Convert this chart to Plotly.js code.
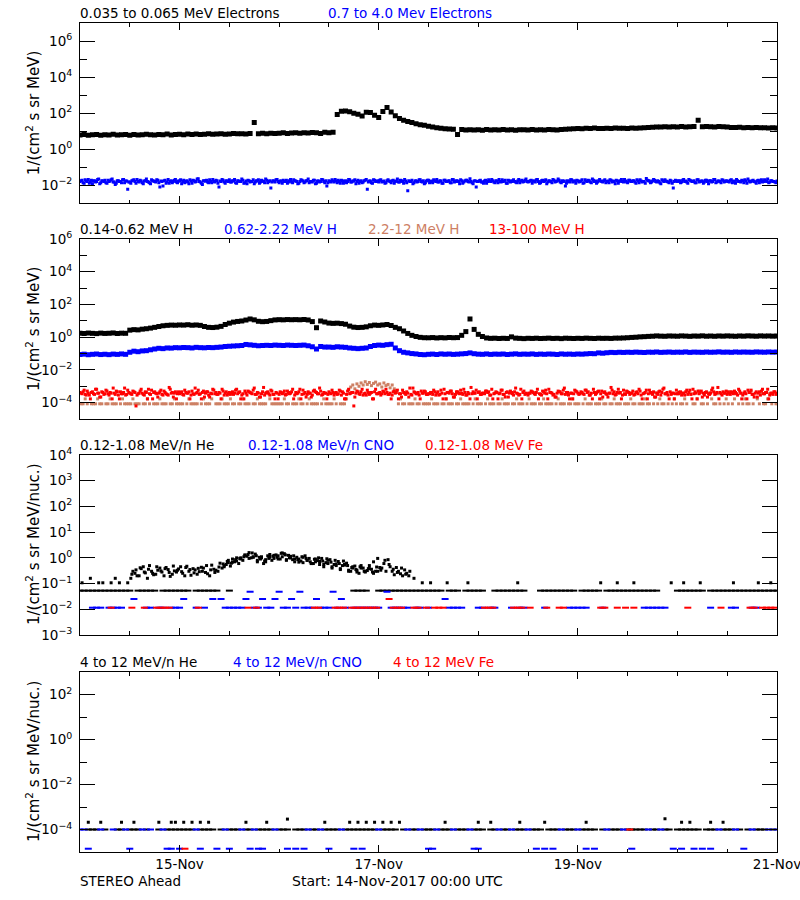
<!DOCTYPE html>
<html>
<head>
<meta charset="utf-8">
<script src="https://cdn.plot.ly/plotly-3.0.1.min.js"></script>
<style>html,body{margin:0;padding:0;background:#fff}</style>
</head>
<body>
<div id="chart" style="width:800px;height:900px"></div>
<script>
// ---------- time base ----------
const START = Date.UTC(2017, 10, 14, 0, 0, 0);
const HOUR = 3600000;

// ---------- Panel 1: electrons ----------
// 0.035-0.065 MeV electrons, hourly from 14-Nov 00:00
const eLow = [
6.1,6.5,5.9,6.3,6.6,6.0,6.4,6.2,6.7,6.1,6.3,6.5,6.0,6.6,6.2,6.4,6.8,6.3,6.1,6.6,6.4,6.9,6.2,6.5,
6.7,6.3,6.9,6.5,7.0,6.6,6.8,7.1,6.7,6.9,7.3,6.8,7.0,7.4,7.1,7.2,6.9,7.5,30,7.3,7.6,7.2,7.8,7.4,
7.7,8.1,7.5,8.0,8.3,7.8,8.2,8.0,8.5,8.1,7.4,8.6,8.3,8.8,85,128,132,118,100,88,70,112,108,76,
58,125,205,115,72,50,41,34,30,26,23,21,19,17,15.5,14.5,13.8,13.2,12.6,6.5,12.3,11.8,12.2,11.6,
12.0,11.4,12.3,11.7,12.1,11.5,12.4,11.8,12.0,11.3,12.2,11.9,11.6,12.3,11.8,12.1,11.5,12.5,12.0,11.7,12.4,12.8,13.2,13.6,
14.1,13.7,14.5,14.0,14.8,14.2,13.9,14.6,14.3,15.0,14.4,14.7,14.1,15.2,14.6,14.9,15.4,15.8,16.5,17.2,16.8,17.5,17.0,17.8,
17.3,18.0,17.1,17.6,18.2,40,17.4,18.1,17.7,17.2,18.0,17.5,16.9,16.2,15.8,16.4,15.5,16.0,15.3,15.9,15.4,15.7,15.1,15.6,
15.2];
// 0.7-4.0 MeV electrons, every 30 min (on :00/:30)
const eHigh = [
.016,.019,.013,.017,.021,.015,.012,.018,.016,.022,.014,.017,.019,.013,.016,.02,.015,.011,.018,.016,.014,.021,.017,.006,
.015,.018,.02,.013,.016,.019,.014,.017,.022,.015,.012,.018,.016,.02,.014,.017,.009,.019,.015,.013,.018,.016,.021,.014,
.017,.012,.019,.016,.015,.02,.013,.018,.016,.023,.015,.011,.017,.019,.014,.016,.021,.015,.018,.008,.016,.019,.013,.017,
.02,.015,.017,.014,.018,.016,.022,.013,.017,.019,.015,.016,.012,.018,.02,.015,.017,.014,.019,.016,.007,.018,.015,.021,
.014,.017,.019,.016,.013,.018,.015,.02,.017,.012,.016,.019,.014,.018,.022,.016,.015,.019,.013,.017,.016,.02,.014,.009,
.018,.015,.017,.021,.014,.016,.019,.013,.018,.016,.02,.015,.017,.012,.019,.016,.014,.018,.021,.015,.017,.013,.019,.016,
.015,.02,.016,.013,.018,.017,.014,.019,.016,.022,.015,.018,.013,.017,.005,.016,.019,.014,.018,.016,.02,.015,.012,.017,
.019,.016,.014,.018,.021,.015,.017,.013,.019,.016,.018,.014,.02,.016,.017,.012,.018,.015,.019,.016,.023,.014,.017,.008,
.016,.019,.015,.017,.013,.02,.016,.018,.014,.017,.021,.015,.016,.019,.013,.018,.016,.02,.015,.017,.014,.019,.016,.022,
.015,.018,.013,.017,.02,.016,.014,.019,.017,.012,.018,.016,.021,.015,.017,.019,.014,.016,.009,.018,.015,.02,.017,.013,
.018,.016,.02,.014,.017,.019,.015,.022,.016,.013,.018,.017,.015,.02,.016,.014,.019,.017,.012,.018,.016,.021,.015,.017,
.014,.019,.016,.018,.013,.017,.02,.015,.016,.024,.018,.014,.017,.019,.015,.016,.012,.018,.02,.016,.014,.017,.007,.019,
.016,.018,.015,.021,.017,.013,.019,.016,.018,.014,.02,.016,.017,.015,.019,.012,.018,.016,.021,.015,.017,.014,.019,.016,
.017,.015,.02,.016,.013,.018,.016,.019,.014,.017,.022,.015,.018,.016,.013,.019,.017,.015,.02,.016,.014,.018,.016,.015,
.017];
// 0.7-4.0 MeV electrons, every 30 min (on :15/:45)
const eHigh2 = [
.018,.014,.02,.016,.013,.019,.017,.015,.021,.012,.018,.016,.014,.019,.017,.022,.015,.013,.018,.016,.02,.014,.017,.015,
.013,.019,.016,.021,.015,.017,.012,.018,.016,.014,.02,.017,.015,.019,.008,.016,.018,.013,.021,.016,.014,.019,.015,.017,
.02,.016,.014,.018,.012,.017,.019,.015,.022,.016,.013,.018,.017,.015,.02,.014,.016,.019,.013,.017,.021,.015,.018,.016,
.015,.018,.021,.013,.017,.016,.019,.014,.012,.018,.016,.02,.015,.017,.013,.019,.016,.022,.014,.018,.015,.017,.02,.016,
.017,.013,.016,.019,.015,.021,.014,.018,.016,.013,.02,.017,.015,.018,.014,.016,.019,.012,.017,.015,.021,.016,.018,.014,
.016,.02,.015,.017,.019,.013,.018,.016,.014,.021,.015,.017,.02,.016,.013,.018,.015,.019,.006,.017,.014,.02,.016,.018,
.019,.015,.017,.014,.02,.016,.018,.013,.017,.015,.019,.016,.021,.014,.018,.016,.012,.017,.015,.02,.016,.018,.014,.019,
.014,.017,.02,.016,.015,.018,.013,.019,.016,.017,.014,.021,.015,.018,.016,.02,.013,.017,.019,.015,.016,.012,.018,.016,
.018,.015,.013,.019,.016,.017,.021,.015,.018,.014,.016,.02,.017,.013,.019,.015,.018,.016,.014,.021,.017,.015,.019,.016,
.016,.019,.017,.015,.021,.013,.018,.016,.02,.015,.017,.014,.019,.016,.022,.015,.018,.017,.013,.016,.02,.015,.017,.019,
.015,.017,.013,.02,.016,.018,.014,.019,.017,.015,.021,.016,.018,.014,.017,.02,.015,.016,.019,.013,.018,.016,.021,.015,
.019,.016,.018,.015,.02,.014,.017,.016,.013,.019,.017,.015,.021,.016,.018,.014,.02,.016,.017,.015,.019,.013,.016,.018,
.017,.014,.019,.016,.015,.021,.018,.016,.014,.02,.015,.017,.013,.019,.016,.018,.015,.021,.014,.017,.016,.02,.015,.018,
.016,.019,.014,.017,.021,.016,.015,.018,.02,.013,.017,.016,.019,.015,.018,.014,.02,.016,.017,.022,.015,.018,.016,.014];

// ---------- Panel 2: protons ----------
// 0.14-0.62 MeV H, hourly
const hLow = [
1.75,1.68,1.8,1.72,1.66,1.78,1.7,1.74,1.82,1.69,1.76,1.73,
2.7,2.9,2.8,3.1,3.3,3.6,4.0,4.5,5.0,5.3,5.5,5.4,
5.6,5.5,5.8,5.4,5.6,5.3,4.5,4.0,3.9,4.1,4.6,6.0,
7.2,8.4,9.2,9.8,11.2,13.0,11.5,9.4,8.9,9.2,10.3,11.4,
11.8,11.5,12.0,11.7,11.9,11.6,12.1,11.3,9.0,3.8,9.8,8.5,
7.3,7.0,7.2,6.8,6.2,4.8,4.1,3.9,4.0,4.3,5.0,5.5,
5.3,5.6,6.0,5.2,4.0,3.3,2.4,1.7,1.3,1.1,0.98,0.93,
0.92,0.95,0.9,0.94,0.91,0.96,0.93,0.95,1.3,2.2,13,3.0,
1.5,1.1,0.9,0.85,0.87,0.83,0.86,0.84,1.05,0.88,0.85,0.82,
0.86,0.84,0.87,0.83,0.85,0.88,0.84,0.86,0.82,0.87,0.85,0.83,
0.86,0.84,0.88,0.85,0.83,0.87,0.85,0.86,0.84,0.88,0.88,0.9,
0.93,0.97,1.0,1.05,1.08,1.12,1.15,1.2,1.16,1.14,1.19,1.17,
1.15,1.2,1.17,1.13,1.18,1.16,1.21,1.15,1.18,1.14,1.19,1.16,
1.2,1.17,1.14,1.19,1.16,1.21,1.18,1.15,1.2,1.17,1.19,1.16,
1.18];
// 0.62-2.22 MeV H, hourly
const hMid = [
.088,.092,.085,.09,.094,.087,.091,.086,.093,.089,.095,.09,
.12,.14,.13,.145,.15,.17,.19,.21,.2,.22,.215,.23,
.225,.235,.23,.22,.24,.23,.225,.235,.23,.24,.25,.27,
.28,.29,.3,.31,.36,.34,.32,.3,.31,.32,.31,.33,
.32,.31,.33,.32,.31,.32,.33,.3,.26,.19,.27,.25,
.25,.24,.26,.25,.24,.22,.21,.2,.21,.22,.27,.31,
.33,.32,.35,.37,.22,.15,.12,.11,.1,.095,.088,.085,
.09,.093,.088,.095,.091,.094,.089,.092,.096,.1,.11,.098,
.092,.09,.095,.089,.093,.091,.094,.088,.092,.096,.09,.093,
.091,.095,.089,.093,.09,.094,.092,.088,.095,.091,.093,.09,
.094,.092,.096,.1,.098,.11,.105,.112,.118,.115,.12,.117,
.121,.118,.123,.119,.116,.122,.12,.125,.118,.121,.124,.119,
.122,.12,.126,.118,.123,.121,.119,.124,.12,.122,.127,.121,
.123,.119,.125,.121,.124,.122,.12,.126,.123,.121,.125,.122,
.124];
// 2.2-12 MeV H, every 30 min
const hVery = [
8.5e-5,8.5e-5,1.7e-4,8.5e-5,null,8.5e-5,8.5e-5,8.5e-5,1.7e-4,8.5e-5,8.5e-5,null,8.5e-5,8.5e-5,1.7e-4,8.5e-5,8.5e-5,8.5e-5,null,8.5e-5,1.7e-4,8.5e-5,8.5e-5,8.5e-5,
8.5e-5,1.7e-4,8.5e-5,8.5e-5,8.5e-5,null,8.5e-5,8.5e-5,1.7e-4,8.5e-5,null,8.5e-5,8.5e-5,8.5e-5,1.7e-4,8.5e-5,8.5e-5,8.5e-5,null,8.5e-5,8.5e-5,1.7e-4,8.5e-5,8.5e-5,
8.5e-5,8.5e-5,null,8.5e-5,1.7e-4,8.5e-5,8.5e-5,8.5e-5,8.5e-5,null,8.5e-5,1.7e-4,8.5e-5,8.5e-5,8.5e-5,1.7e-4,null,8.5e-5,8.5e-5,8.5e-5,1.7e-4,8.5e-5,8.5e-5,8.5e-5,
1.7e-4,8.5e-5,8.5e-5,null,8.5e-5,8.5e-5,1.7e-4,8.5e-5,8.5e-5,8.5e-5,null,8.5e-5,8.5e-5,1.7e-4,8.5e-5,8.5e-5,8.5e-5,8.5e-5,null,1.7e-4,8.5e-5,8.5e-5,8.5e-5,8.5e-5,
8.5e-5,8.5e-5,1.7e-4,8.5e-5,8.5e-5,null,8.5e-5,8.5e-5,8.5e-5,1.7e-4,8.5e-5,8.5e-5,null,8.5e-5,1.7e-4,8.5e-5,8.5e-5,8.5e-5,8.5e-5,null,8.5e-5,1.7e-4,8.5e-5,8.5e-5,
8.5e-5,8.5e-5,1.7e-4,8.5e-5,null,8.5e-5,8.5e-5,8.5e-5,1.7e-4,6e-4,9e-4,1.2e-3,7e-4,1.4e-3,1.0e-3,1.6e-3,1.2e-3,1.9e-3,1.3e-3,1.7e-3,1.1e-3,1.5e-3,1.8e-3,1.2e-3,
1.4e-3,9e-4,1.6e-3,1.1e-3,1.3e-3,8e-4,1.2e-3,7e-4,5.5e-4,8.5e-5,1.7e-4,8.5e-5,8.5e-5,null,8.5e-5,8.5e-5,8.5e-5,1.7e-4,8.5e-5,8.5e-5,null,8.5e-5,8.5e-5,8.5e-5,
8.5e-5,1.7e-4,8.5e-5,8.5e-5,8.5e-5,null,8.5e-5,8.5e-5,1.7e-4,8.5e-5,8.5e-5,8.5e-5,null,8.5e-5,8.5e-5,1.7e-4,8.5e-5,8.5e-5,8.5e-5,8.5e-5,null,8.5e-5,1.7e-4,8.5e-5,
8.5e-5,8.5e-5,null,8.5e-5,1.7e-4,8.5e-5,8.5e-5,8.5e-5,null,8.5e-5,8.5e-5,1.7e-4,8.5e-5,8.5e-5,8.5e-5,null,8.5e-5,8.5e-5,1.7e-4,8.5e-5,8.5e-5,8.5e-5,null,8.5e-5,
1.7e-4,8.5e-5,8.5e-5,8.5e-5,null,8.5e-5,8.5e-5,1.7e-4,8.5e-5,8.5e-5,8.5e-5,8.5e-5,null,8.5e-5,1.7e-4,8.5e-5,8.5e-5,8.5e-5,null,8.5e-5,8.5e-5,1.7e-4,8.5e-5,8.5e-5,
8.5e-5,null,8.5e-5,1.7e-4,8.5e-5,8.5e-5,8.5e-5,null,8.5e-5,8.5e-5,8.5e-5,1.7e-4,8.5e-5,8.5e-5,null,8.5e-5,8.5e-5,1.7e-4,8.5e-5,8.5e-5,8.5e-5,null,8.5e-5,8.5e-5,
8.5e-5,1.7e-4,8.5e-5,8.5e-5,null,8.5e-5,8.5e-5,8.5e-5,1.7e-4,8.5e-5,8.5e-5,null,8.5e-5,4e-4,8.5e-5,1.7e-4,8.5e-5,8.5e-5,3.5e-4,8.5e-5,null,8.5e-5,1.7e-4,8.5e-5,
4.5e-4,8.5e-5,8.5e-5,1.7e-4,8.5e-5,null,3.5e-4,8.5e-5,8.5e-5,1.7e-4,5e-4,8.5e-5,8.5e-5,null,8.5e-5,4e-4,1.7e-4,8.5e-5,8.5e-5,3.5e-4,8.5e-5,null,8.5e-5,1.7e-4,
8.5e-5,4.5e-4,8.5e-5,1.7e-4,null,8.5e-5,3.8e-4,8.5e-5,1.7e-4,8.5e-5,8.5e-5,5e-4,8.5e-5,null,1.7e-4,8.5e-5,4e-4,8.5e-5,8.5e-5,1.7e-4,3.5e-4,8.5e-5,null,8.5e-5,
8.5e-5];
// 13-100 MeV H, every 30 min (on :00/:30)
const hHigh = [
4.2e-4,3.5e-4,5.8e-4,2.9e-4,3.8e-4,1.7e-4,4.6e-4,3.2e-4,6.6e-4,3.8e-4,2.2e-4,4.2e-4,3.5e-4,5.1e-4,2.9e-4,3.8e-4,7.8e-4,3.2e-4,4.6e-4,1.7e-4,3.5e-4,4.2e-4,2.9e-4,5.8e-4,
3.8e-4,3.2e-4,4.6e-4,6.3e-5,3.5e-4,5.1e-4,3.8e-4,2.9e-4,4.2e-4,6.6e-4,3.2e-4,1.7e-4,4.6e-4,3.5e-4,3.8e-4,5.8e-4,2.9e-4,4.2e-4,3.2e-4,8.5e-4,3.8e-4,2.2e-4,4.6e-4,3.5e-4,
3.5e-4,4.6e-4,2.9e-4,4.2e-4,3.8e-4,1.7e-4,5.1e-4,3.2e-4,3.8e-4,5.8e-4,3.5e-4,4.2e-4,2.2e-4,4.6e-4,2.9e-4,3.8e-4,6.6e-4,3.5e-4,3.2e-4,4.2e-4,1.7e-4,5.1e-4,3.8e-4,2.9e-4,
4.2e-4,3.8e-4,3.2e-4,5.8e-4,3.5e-4,4.6e-4,2.9e-4,1.7e-4,3.8e-4,5.1e-4,4.2e-4,3.5e-4,7.8e-4,3.2e-4,3.8e-4,2.2e-4,4.6e-4,2.9e-4,4.2e-4,3.5e-4,5.8e-4,3.2e-4,1.7e-4,3.8e-4,
3.2e-4,4.2e-4,3.8e-4,2.9e-4,5.1e-4,3.5e-4,4.6e-4,1.7e-4,4.2e-4,3.8e-4,6.6e-4,3.2e-4,3.5e-4,2.2e-4,4.6e-4,3.8e-4,2.9e-4,5.8e-4,4.2e-4,3.5e-4,5.1e-4,3.2e-4,3.8e-4,1.7e-4,
4.6e-4,3.5e-4,4.2e-4,3.8e-4,3.2e-4,5.8e-4,2.9e-4,3.8e-4,1.7e-4,5.1e-4,3.5e-4,4.2e-4,6.3e-5,3.8e-4,4.6e-4,3.2e-4,6.6e-4,3.5e-4,2.9e-4,4.2e-4,3.8e-4,1.7e-4,4.6e-4,3.5e-4,
3.8e-4,2.9e-4,5.1e-4,3.5e-4,4.2e-4,3.2e-4,1.7e-4,4.6e-4,3.8e-4,5.8e-4,3.5e-4,2.2e-4,4.2e-4,3.2e-4,3.8e-4,7.8e-4,2.9e-4,4.6e-4,3.5e-4,4.2e-4,1.7e-4,3.8e-4,5.1e-4,3.2e-4,
3.5e-4,4.2e-4,3.2e-4,4.6e-4,3.8e-4,2.9e-4,5.8e-4,1.7e-4,3.5e-4,4.2e-4,3.8e-4,5.1e-4,2.2e-4,3.2e-4,4.6e-4,3.5e-4,3.8e-4,6.6e-4,2.9e-4,4.2e-4,1.7e-4,3.5e-4,3.8e-4,5.8e-4,
4.2e-4,3.2e-4,3.8e-4,3.5e-4,5.1e-4,4.6e-4,2.9e-4,1.7e-4,3.8e-4,4.2e-4,3.5e-4,5.8e-4,3.2e-4,2.2e-4,4.6e-4,3.8e-4,4.2e-4,2.9e-4,7.8e-4,3.5e-4,3.2e-4,1.7e-4,5.1e-4,3.8e-4,
2.9e-4,3.8e-4,4.6e-4,3.5e-4,4.2e-4,1.7e-4,3.2e-4,5.1e-4,3.8e-4,3.5e-4,6.6e-4,4.2e-4,2.9e-4,2.2e-4,3.8e-4,4.6e-4,3.5e-4,5.8e-4,3.2e-4,4.2e-4,1.7e-4,3.8e-4,3.5e-4,5.1e-4,
3.8e-4,3.5e-4,4.2e-4,3.2e-4,5.8e-4,4.6e-4,2.9e-4,1.7e-4,4.2e-4,3.8e-4,5.1e-4,3.5e-4,2.2e-4,4.6e-4,3.2e-4,3.8e-4,8.5e-4,3.5e-4,2.9e-4,4.2e-4,3.8e-4,1.7e-4,5.8e-4,3.2e-4,
4.6e-4,3.2e-4,3.8e-4,2.9e-4,4.2e-4,3.5e-4,5.1e-4,1.7e-4,3.8e-4,5.8e-4,3.5e-4,4.2e-4,3.2e-4,2.2e-4,3.8e-4,4.6e-4,2.9e-4,6.6e-4,3.5e-4,4.2e-4,1.7e-4,3.2e-4,3.8e-4,3.5e-4,
3.5e-4,4.2e-4,2.9e-4,3.8e-4,4.6e-4,3.2e-4,5.8e-4,1.7e-4,3.5e-4,3.8e-4,5.1e-4,4.2e-4,2.2e-4,2.9e-4,4.6e-4,3.5e-4,3.8e-4,7.8e-4,3.2e-4,4.2e-4,1.7e-4,3.5e-4,4.6e-4,3.8e-4,
3.2e-4,3.8e-4,4.6e-4,3.5e-4,4.2e-4,2.9e-4,5.1e-4,1.7e-4,3.8e-4,3.5e-4,5.8e-4,4.2e-4,3.2e-4,2.2e-4,4.6e-4,3.8e-4,2.9e-4,6.6e-4,3.5e-4,4.2e-4,1.7e-4,3.8e-4,3.2e-4,4.6e-4,
3.8e-4];
// 13-100 MeV H, every 30 min (on :15/:45)
const hHigh2 = [
3.8e-4,4.6e-4,3.2e-4,5.1e-4,2.9e-4,4.2e-4,3.5e-4,6.6e-4,3.8e-4,2.2e-4,4.6e-4,3.2e-4,5.8e-4,3.5e-4,4.2e-4,1.7e-4,3.8e-4,5.1e-4,2.9e-4,4.6e-4,3.5e-4,7.8e-4,3.2e-4,4.2e-4,
3.5e-4,5.1e-4,4.2e-4,2.9e-4,3.8e-4,6.6e-4,3.2e-4,4.6e-4,1.7e-4,3.5e-4,5.8e-4,4.2e-4,3.8e-4,2.2e-4,4.6e-4,3.2e-4,5.1e-4,3.5e-4,2.9e-4,6.6e-4,4.2e-4,3.8e-4,1.7e-4,4.6e-4,
4.2e-4,3.2e-4,5.8e-4,3.8e-4,4.6e-4,2.9e-4,3.5e-4,7.8e-4,4.2e-4,3.2e-4,1.7e-4,5.1e-4,3.8e-4,4.6e-4,2.2e-4,3.5e-4,5.8e-4,4.2e-4,3.2e-4,3.8e-4,6.6e-4,2.9e-4,4.6e-4,3.5e-4,
3.2e-4,4.6e-4,3.8e-4,6.6e-4,4.2e-4,1.7e-4,3.5e-4,5.1e-4,2.9e-4,4.6e-4,3.8e-4,5.8e-4,3.2e-4,4.2e-4,2.2e-4,3.5e-4,8.5e-4,3.8e-4,4.6e-4,2.9e-4,5.1e-4,3.2e-4,4.2e-4,1.7e-4,
4.6e-4,3.5e-4,5.1e-4,3.2e-4,4.2e-4,3.8e-4,6.6e-4,2.9e-4,3.5e-4,4.6e-4,1.7e-4,5.8e-4,4.2e-4,3.2e-4,3.8e-4,2.2e-4,5.1e-4,4.6e-4,3.5e-4,7.8e-4,2.9e-4,4.2e-4,3.8e-4,3.2e-4,
3.8e-4,5.8e-4,2.9e-4,4.2e-4,3.5e-4,5.1e-4,4.6e-4,1.7e-4,3.2e-4,6.6e-4,3.8e-4,4.2e-4,2.2e-4,5.1e-4,3.5e-4,4.6e-4,2.9e-4,3.8e-4,5.8e-4,3.2e-4,4.2e-4,1.7e-4,6.6e-4,3.5e-4,
4.2e-4,3.5e-4,4.6e-4,6.6e-4,3.2e-4,3.8e-4,2.9e-4,5.1e-4,4.2e-4,1.7e-4,3.5e-4,5.8e-4,3.8e-4,4.6e-4,2.2e-4,3.2e-4,7.8e-4,4.2e-4,3.5e-4,2.9e-4,5.1e-4,3.8e-4,4.6e-4,3.2e-4,
3.5e-4,4.2e-4,5.8e-4,2.9e-4,4.6e-4,3.2e-4,3.8e-4,6.6e-4,1.7e-4,4.2e-4,5.1e-4,3.5e-4,2.2e-4,4.6e-4,3.8e-4,5.8e-4,3.2e-4,4.2e-4,2.9e-4,3.5e-4,8.5e-4,4.6e-4,3.8e-4,1.7e-4,
4.6e-4,3.2e-4,3.8e-4,5.1e-4,4.2e-4,2.9e-4,6.6e-4,3.5e-4,4.6e-4,1.7e-4,3.8e-4,5.8e-4,3.2e-4,4.2e-4,2.2e-4,5.1e-4,3.5e-4,4.6e-4,3.8e-4,2.9e-4,6.6e-4,4.2e-4,3.2e-4,3.5e-4,
3.8e-4,5.1e-4,4.2e-4,3.2e-4,6.6e-4,3.5e-4,2.9e-4,4.6e-4,5.8e-4,1.7e-4,4.2e-4,3.8e-4,3.2e-4,2.2e-4,5.1e-4,4.6e-4,3.5e-4,7.8e-4,4.2e-4,2.9e-4,3.8e-4,1.7e-4,5.8e-4,4.6e-4,
3.2e-4,4.6e-4,3.5e-4,5.8e-4,4.2e-4,2.9e-4,3.8e-4,6.6e-4,3.2e-4,4.6e-4,1.7e-4,5.1e-4,4.2e-4,3.5e-4,2.2e-4,3.8e-4,5.8e-4,4.6e-4,3.2e-4,6.6e-4,4.2e-4,2.9e-4,3.5e-4,5.1e-4,
4.2e-4,3.8e-4,5.1e-4,3.2e-4,4.6e-4,6.6e-4,2.9e-4,3.5e-4,4.2e-4,1.7e-4,5.8e-4,3.8e-4,4.6e-4,2.2e-4,3.2e-4,5.1e-4,4.2e-4,7.8e-4,3.5e-4,2.9e-4,4.6e-4,3.8e-4,1.7e-4,5.8e-4,
3.5e-4,4.6e-4,3.8e-4,2.9e-4,5.8e-4,4.2e-4,3.2e-4,6.6e-4,4.6e-4,1.7e-4,3.5e-4,5.1e-4,3.8e-4,4.2e-4,2.2e-4,3.2e-4,5.8e-4,4.6e-4,3.5e-4,8.5e-4,4.2e-4,2.9e-4,3.8e-4,5.1e-4,
4.6e-4,3.2e-4,4.2e-4,5.1e-4,3.5e-4,6.6e-4,3.8e-4,2.9e-4,4.6e-4,1.7e-4,4.2e-4,5.8e-4,3.2e-4,3.8e-4,2.2e-4,4.6e-4,5.1e-4,3.5e-4,4.2e-4,6.6e-4,2.9e-4,3.8e-4,4.6e-4,3.2e-4];

// ---------- Panel 3: 0.12-1.08 MeV/n heavy ions ----------
// He: hourly sub-samples at :00 (heA), :30 (heB), :15 (heC); extra :45 (heD from 34:45, heE from 12:45)
const heA = [
.053,.053,.053,.053,.053,.053,.053,.053,.053,.053,.053,.053,
.053,null,.053,.053,.053,.053,.053,null,.053,.053,.053,.053,
.053,.053,.053,null,.053,.053,.053,.053,.053,.053,null,null,
.053,null,null,null,null,null,null,null,null,null,null,null,
null,null,null,null,null,null,null,null,null,null,null,null,
null,null,null,null,null,null,.053,.053,.053,.053,null,null,
.053,.053,.053,.053,.053,.053,.053,.053,.053,.053,.053,.053,
.053,.053,.053,.053,null,.053,.053,.053,null,.053,.053,.053,
.053,.053,null,null,.053,.053,.053,.053,.053,.053,.053,.053,
null,null,null,.053,.053,.053,.053,.053,.053,.053,.053,.053,
null,.053,.053,.053,.053,.053,null,.053,.053,.053,.053,.053,
.053,.053,.053,.053,.053,.053,.053,.053,null,null,null,null,
.053,.053,.053,.053,.053,.053,.053,null,.053,.053,.053,.053,
.053,.053,.053,.053,.053,.053,.053,.053,.053,.053,.053,.053,
.053];
const heB = [
.107,null,.16,null,.107,.107,null,.107,.16,.107,null,.107,
.23,.34,.41,.28,.36,.25,.45,.31,.38,.27,.48,.33,
.29,.42,.35,.26,.39,.3,.5,.34,.27,.44,.58,.72,
.62,.85,.95,1.1,1.35,1.55,1.2,.9,.75,.95,1.15,1.05,
1.5,1.3,1.0,1.2,.85,1.1,.95,.7,.88,1.0,.75,.92,
.68,.8,.6,.75,.5,.42,.35,.45,.3,.38,.28,.44,
.33,.8,.55,.36,.27,.4,.23,.3,.16,null,.107,null,
.107,null,null,null,.107,null,null,null,null,.107,null,null,
null,null,null,null,null,null,null,null,null,.107,null,null,
null,null,null,null,null,null,null,null,null,null,null,null,
null,null,null,null,null,.107,null,null,null,.107,null,null,
null,.107,null,null,null,null,null,null,null,null,.107,null,
null,.107,null,null,null,.107,null,null,null,null,null,null,
null,.107,null,null,null,null,null,.107,null,null,.107,null,
null];
const heC = [
null,null,null,null,null,null,null,null,null,null,null,null,
.16,.25,.2,.45,.16,.3,.23,.4,.2,.35,.23,.28,
.45,.2,.3,.38,.23,.43,.27,.2,.36,.3,.4,.55,
.48,.7,.6,.8,1.15,1.0,1.4,1.05,.6,1.2,.8,1.3,
.9,1.45,1.25,.85,1.05,.75,1.2,.95,.6,.78,.95,.65,
.85,.55,.72,.5,.62,.3,.48,.25,.4,.32,.36,.3,
.42,.6,.85,.3,.42,.24,.34,.2];
const heD = [
.5,.65,.9,.75,1.0,1.25,.95,1.1,.7,1.0,.85,1.05,1.25,.9,1.1,.8,1.0,.7,.9,.65,
.8,.6,.7,.55,.45,.6,.4,.5,.35,.55,.3,.4,.33,.5,.28,.38,.25,.3];
const heE = [
.3,.2,.38,.26,.5,.22,.33,.28,.42,.19,.31,.37,.25,.47,.21,.34,.29,.4,.24,.52,
.33,.62,.45,.8,.68,1.0,.9,1.3,1.6,1.05,.8,1.1,.7,1.35,.95,1.2,1.55,.85,1.15,.9,
.68,1.05,.8,.6,.9,.72,.55,.8,.45,.58,.38,.52,.33,.45,.28,.4,.3,.5,.7,.95,
.4,.3,.45,.22,.3,.2,.25];
// CNO, hourly
const cno3 = [
null,null,null,.0115,.0115,.0115,null,.0115,.0115,.0115,.0115,null,
null,.025,null,null,.0115,.0115,null,.0115,.0115,null,.0115,.0115,
.0115,.025,null,null,.0115,null,.0115,null,.025,null,.025,.0115,
.0115,.0115,.0115,.0115,.025,.048,.0115,.0115,.025,.0115,.0115,.025,
.048,.0115,.0115,.025,.0115,.048,.0115,.0115,.0115,.025,.0115,.0115,
.0115,.048,.0115,.025,.0115,null,.0115,.0115,.0115,.0115,.0115,.0115,
.0115,null,.048,.0115,.0115,.0115,.0115,.0115,null,.0115,.0115,null,
.0115,null,null,null,.025,.0115,.0115,.0115,.0115,null,null,null,
.0115,.0115,null,.0115,.0115,null,null,null,.0115,null,.0115,.0115,
null,null,null,null,.0115,null,null,null,null,null,.0115,.0115,
.0115,.0115,.0115,null,null,null,.0115,null,null,null,null,null,
null,null,null,null,.0115,.0115,.0115,.0115,.0115,.0115,null,null,
null,null,null,null,null,null,null,null,.0115,null,null,null,
null,.0115,.0115,null,null,null,.0115,.0115,null,null,null,null,
null];
// Fe, hourly (on the half hour)
const fe3 = [
null,null,null,null,null,null,null,.0115,null,null,null,null,
.0115,null,null,.0115,null,null,.0115,.0115,.0115,.0115,null,null,
null,null,null,null,.0115,null,null,null,null,null,null,null,
null,null,null,null,.0115,null,.0115,null,null,null,null,null,
null,null,null,null,null,null,null,null,.0115,.0115,null,null,
null,.0115,.0115,.0115,null,.0115,.0115,.0115,.0115,.0115,.0115,.0115,
null,null,.025,.0115,.0115,.0115,null,null,.0115,.0115,null,.0115,
null,.0115,.0115,.0115,null,null,null,null,null,null,null,null,
null,.0115,.0115,.0115,null,null,null,null,.0115,.0115,.0115,null,
.0115,null,null,null,.0115,null,null,.0115,.0115,null,null,null,
null,null,null,null,null,.0115,.0115,null,null,.0115,null,.0115,
null,.0115,null,null,null,null,null,null,null,null,null,null,
null,null,.0115,null,null,null,null,null,null,null,.0115,null,
null,null,null,null,null,.0115,.0115,null,.0115,.0115,.0115,.0115,
null];

// ---------- Panel 4: 4-12 MeV/n heavy ions ----------
const he4 = [
null,null,1e-4,1e-4,1e-4,null,1e-4,null,null,1e-4,1e-4,null,
1e-4,1e-4,1e-4,null,1e-4,null,null,1e-4,null,1e-4,1e-4,1e-4,
1e-4,1e-4,1e-4,1e-4,null,1e-4,1e-4,1e-4,1e-4,null,1e-4,null,
1e-4,1e-4,1e-4,null,1e-4,1e-4,null,1e-4,1e-4,1e-4,1e-4,null,
1e-4,1e-4,1e-4,null,1e-4,1e-4,1e-4,null,1e-4,1e-4,null,1e-4,
1e-4,1e-4,1e-4,null,1e-4,1e-4,1e-4,1e-4,1e-4,1e-4,1e-4,1e-4,
null,1e-4,1e-4,1e-4,1e-4,null,1e-4,null,1e-4,1e-4,null,1e-4,
1e-4,1e-4,null,1e-4,1e-4,1e-4,null,1e-4,1e-4,1e-4,null,1e-4,
1e-4,1e-4,null,1e-4,1e-4,null,1e-4,1e-4,null,1e-4,1e-4,1e-4,
null,1e-4,1e-4,1e-4,null,1e-4,1e-4,1e-4,null,1e-4,1e-4,1e-4,
null,1e-4,1e-4,1e-4,1e-4,null,1e-4,null,1e-4,1e-4,1e-4,null,
1e-4,1e-4,1e-4,1e-4,1e-4,null,1e-4,1e-4,null,1e-4,1e-4,null,
1e-4,1e-4,1e-4,1e-4,1e-4,1e-4,null,1e-4,1e-4,1e-4,null,1e-4,
1e-4,1e-4,null,1e-4,null,1e-4,null,1e-4,1e-4,1e-4,null,1e-4,
null];
const he4UpHours = [2,5,10,13,19,22,23,25,27,29,31,40,45,50,59,65,67,69,71,73,75,77,88,96,99,106,112,122,141,145,147,152,155];
const he4UpVals  = [2.1e-4,2.1e-4,2.1e-4,2.1e-4,2.1e-4,2.1e-4,2.1e-4,2.1e-4,2.1e-4,2.1e-4,2.1e-4,2.1e-4,2.1e-4,2.9e-4,2.1e-4,2.1e-4,2.1e-4,2.1e-4,2.1e-4,2.1e-4,2.1e-4,2.1e-4,2.1e-4,2.1e-4,2.1e-4,2.1e-4,2.1e-4,2.1e-4,3e-4,2.1e-4,2.1e-4,2.1e-4,2.1e-4];
const cno4Hours = [0,1,2,5,8,11,12,15,17,20,21,22,24,28,29,33,35,36,39,41,42,43,44,47,50,52,54,55,58,60,63,66,68,72,79,82,84,85,86,90,94,95,96,101,104,108,110,112,114,116,120,122,124,127,131,133,137,140,143,145,148,150,152,154,158,160,162,166,168];
const cno4Vals  = [1e-4,1e-4,1.4e-5,1e-4,1e-4,1e-4,1.4e-5,1e-4,1e-4,1e-4,1.4e-5,1.4e-5,1.4e-5,1e-4,1.4e-5,1.4e-5,1e-4,1.4e-5,1e-4,1.4e-5,1e-4,1.4e-5,1.4e-5,1e-4,1.4e-5,1.4e-5,1.4e-5,1e-4,1e-4,1.4e-5,1e-4,1.4e-5,1.4e-5,1e-4,1e-4,1e-4,1.4e-5,1.4e-5,1e-4,1e-4,1e-4,1.4e-5,1.4e-5,1e-4,1e-4,1e-4,1.4e-5,1.4e-5,1.4e-5,1e-4,1e-4,1.4e-5,1.4e-5,1e-4,1e-4,1.4e-5,1e-4,1e-4,1.4e-5,1.4e-5,1.4e-5,1.4e-5,1.4e-5,1e-4,1e-4,1.4e-5,1e-4,1e-4,1e-4];
const fe4Hours = [25.3, 132.5];
const fe4Vals  = [1.4e-5, 1e-4];

// ---------- axis tick labels ----------
const y1TickVals = [1e-2, 1, 1e2, 1e4, 1e6];
const y1TickText = ['10<sup>−2</sup>','10<sup>0</sup>','10<sup>2</sup>','10<sup>4</sup>','10<sup>6</sup>'];
const y1Minor = [1e-1, 10, 1e3, 1e5];
const y2TickVals = [1e-4, 1e-2, 1, 1e2, 1e4, 1e6];
const y2TickText = ['10<sup>−4</sup>','10<sup>−2</sup>','10<sup>0</sup>','10<sup>2</sup>','10<sup>4</sup>','10<sup>6</sup>'];
const y2Minor = [1e-3, 1e-1, 10, 1e3, 1e5];
const y3TickVals = [1e-3, 1e-2, 1e-1, 1, 10, 1e2, 1e3, 1e4];
const y3TickText = ['10<sup>−3</sup>','10<sup>−2</sup>','10<sup>−1</sup>','10<sup>0</sup>','10<sup>1</sup>','10<sup>2</sup>','10<sup>3</sup>','10<sup>4</sup>'];
const y4TickVals = [1e-4, 1e-2, 1, 1e2];
const y4TickText = ['10<sup>−4</sup>','10<sup>−2</sup>','10<sup>0</sup>','10<sup>2</sup>'];
const y4Minor = [1e-3, 1e-1, 10];

// ---------- helpers ----------
const BLACK = '#000000', BLUE = '#0000ff', RED = '#ff0000', BROWN = 'rgb(205,128,100)';
const FONT = 'DejaVu Sans, Verdana, sans-serif';
function gridTimes(vals, stepH, offH) { return vals.map((v, i) => START + (offH + i * stepH) * HOUR); }
function hourTimes(hours) { return hours.map(h => START + h * HOUR); }
function sq(x, y, ax, color, size) {
  return {type:'scatter', mode:'markers', x, y, xaxis:'x'+ax, yaxis:'y'+ax, hoverinfo:'skip', showlegend:false,
    marker:{symbol:'square', size, color, line:{width:0}}};
}
function dash(x, y, ax, color) {
  return {type:'scatter', mode:'markers', x, y, xaxis:'x'+ax, yaxis:'y'+ax, hoverinfo:'skip', showlegend:false,
    marker:{symbol:'line-ew', size:5, color, line:{width:2, color}}};
}

const traces = [
  sq(gridTimes(eLow, 1, 0), eLow, '', BLACK, 5),
  sq(gridTimes(eHigh, 0.5, 0), eHigh, '', BLUE, 3),
  sq(gridTimes(eHigh2, 0.5, 0.25), eHigh2, '', BLUE, 3),

  sq(gridTimes(hLow, 1, 0), hLow, '2', BLACK, 5),
  sq(gridTimes(hMid, 1, 0), hMid, '2', BLUE, 5),
  sq(gridTimes(hVery, 0.5, 0.25), hVery, '2', BROWN, 3),
  sq(gridTimes(hHigh, 0.5, 0), hHigh, '2', RED, 3),
  sq(gridTimes(hHigh2, 0.5, 0.25), hHigh2, '2', RED, 3),

  dash(gridTimes(heA, 1, 0), heA, '3', BLACK),
  sq(gridTimes(heB, 1, 0.5), heB, '3', BLACK, 3),
  sq(gridTimes(heC, 1, 0.25), heC, '3', BLACK, 3),
  sq(gridTimes(heD, 1, 34.75), heD, '3', BLACK, 3),
  sq(gridTimes(heE, 1, 12.75), heE, '3', BLACK, 3),
  dash(gridTimes(cno3, 1, 0), cno3, '3', BLUE),
  dash(gridTimes(fe3, 1, 0.5), fe3, '3', RED),

  dash(gridTimes(he4, 1, 0), he4, '4', BLACK),
  sq(hourTimes(he4UpHours), he4UpVals, '4', BLACK, 3),
  dash(hourTimes(cno4Hours), cno4Vals, '4', BLUE),
  dash(hourTimes(fe4Hours), fe4Vals, '4', RED)
];

function xAxis(anchor, labels) {
  return {
    type:'date', anchor, range:['2017-11-14 00:00', '2017-11-21 00:00'],
    tickmode:'linear', tick0:'2017-11-15', dtick:2*86400000, tickformat:'%d-%b',
    ticks:'inside', ticklen:7, tickwidth:1, tickcolor:'#000',
    minor:{tickmode:'linear', tick0:'2017-11-14', dtick:43200000, ticks:'inside', ticklen:3.5, tickwidth:1, tickcolor:'#000', showgrid:false},
    showticklabels:labels, ticklabeloverflow:'allow', tickfont:{family:FONT, size:13.5, color:'#000'},
    showline:true, linecolor:'#000', linewidth:1, mirror:'allticks',
    showgrid:false, zeroline:false, fixedrange:true
  };
}
function yAxis(domain, range, anchor, tv, tt, mv) {
  return {
    type:'log', domain, range, anchor,
    tickmode:'array', tickvals:tv, ticktext:tt,
    ticks:'inside', ticklen:15, tickwidth:1, tickcolor:'#000',
    minor:{tickmode:'array', tickvals:mv, ticks:'inside', ticklen:7, tickwidth:1, tickcolor:'#000', showgrid:false},
    tickfont:{family:FONT, size:13.5, color:'#000'}, ticklabelstandoff:4,
    showline:true, linecolor:'#000', linewidth:1, mirror:'allticks',
    showgrid:false, zeroline:false, fixedrange:true
  };
}

const PLOT_L = 80, PLOT_W = 697;
function px2paper(px) { return (px - PLOT_L) / PLOT_W; }
function title(text, px, yref, color) {
  return {text, x:px2paper(px), xref:'paper', xanchor:'left', y:1, yref, yanchor:'middle', yshift:10,
    showarrow:false, font:{family:FONT, size:13.5, color}};
}
function ytitle(text, yref) {
  return {text, x:px2paper(33), xref:'paper', xanchor:'center', y:0.5, yref, yanchor:'middle', textangle:-90,
    showarrow:false, font:{family:FONT, size:15, color:'#000'}};
}

const annotations = [
  title('0.035 to 0.065 MeV Electrons', 78, 'y domain', BLACK),
  title('0.7 to 4.0 Mev Electrons', 326, 'y domain', BLUE),
  title('0.14-0.62 MeV H', 78, 'y2 domain', BLACK),
  title('0.62-2.22 MeV H', 222, 'y2 domain', BLUE),
  title('2.2-12 MeV H', 366, 'y2 domain', BROWN),
  title('13-100 MeV H', 487, 'y2 domain', RED),
  title('0.12-1.08 MeV/n He', 78, 'y3 domain', BLACK),
  title('0.12-1.08 MeV/n CNO', 246, 'y3 domain', BLUE),
  title('0.12-1.08 MeV Fe', 423, 'y3 domain', RED),
  title('4 to 12 MeV/n He', 78, 'y4 domain', BLACK),
  title('4 to 12 MeV/n CNO', 231, 'y4 domain', BLUE),
  title('4 to 12 MeV Fe', 391, 'y4 domain', RED),
  ytitle('1/(cm<sup>2</sup> s sr MeV)', 'y domain'),
  ytitle('1/(cm<sup>2</sup> s sr MeV)', 'y2 domain'),
  ytitle('1/(cm<sup>2</sup> s sr MeV/nuc.)', 'y3 domain'),
  ytitle('1/(cm<sup>2</sup> s sr MeV/nuc.)', 'y4 domain'),
  {text:'STEREO Ahead', x:px2paper(78), xref:'paper', xanchor:'left', y:-0.035, yref:'paper', yanchor:'middle',
    showarrow:false, font:{family:FONT, size:13.5, color:'#000'}},
  {text:'Start: 14-Nov-2017 00:00 UTC', x:px2paper(290), xref:'paper', xanchor:'left', y:-0.035, yref:'paper', yanchor:'middle',
    showarrow:false, font:{family:FONT, size:14, color:'#000'}}
];

const layout = {
  width:800, height:900,
  margin:{l:80, r:23, t:23, b:48, pad:0},
  paper_bgcolor:'#fff', plot_bgcolor:'#fff', showlegend:false,
  font:{family:FONT, size:13.5, color:'#000'},
  xaxis: xAxis('y', false),
  xaxis2: xAxis('y2', false),
  xaxis3: xAxis('y3', false),
  xaxis4: xAxis('y4', true),
  yaxis:  yAxis([0.7825, 1.0], [-3, 7], 'x', y1TickVals, y1TickText, y1Minor),
  yaxis2: yAxis([0.5223, 0.7394], [-5, 6], 'x2', y2TickVals, y2TickText, y2Minor),
  yaxis3: yAxis([0.2618, 0.4789], [-3, 4], 'x3', y3TickVals, y3TickText, []),
  yaxis4: yAxis([0.0, 0.2171], [-5, 3], 'x4', y4TickVals, y4TickText, y4Minor),
  annotations
};

Plotly.newPlot('chart', traces, layout, {displayModeBar:false, staticPlot:true});
</script>
</body>
</html>
